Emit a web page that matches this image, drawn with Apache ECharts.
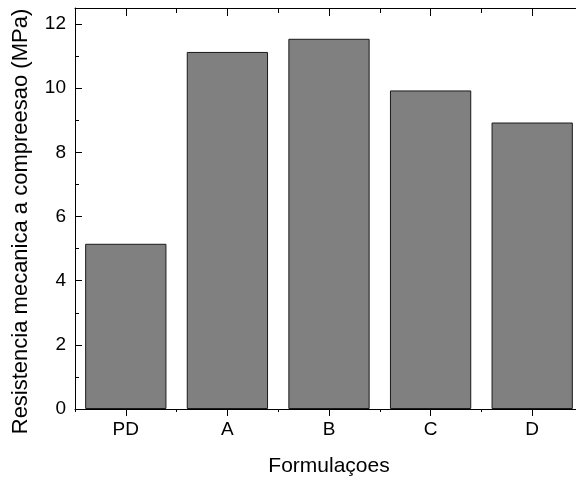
<!DOCTYPE html>
<html>
<head>
<meta charset="utf-8">
<script src="https://cdn.jsdelivr.net/npm/echarts@6/dist/echarts.min.js"></script>
<style>html,body{margin:0;padding:0;background:#fff;}#c{width:576px;height:482px;}</style>
</head>
<body>
<div id="c"></div>
<script>
var categories = ['PD', 'A', 'B', 'C', 'D'];
var values = [5.15, 11.13, 11.54, 9.93, 8.93];
var yMin = 0, yMax = 12.5, yInterval = 2;
var xTitle = 'Formulaçoes';
var yTitle = 'Resistencia mecanica a compreesao (MPa)';

var font = "'Liberation Sans', Arial, sans-serif";
var chart = echarts.init(document.getElementById('c'));
var lineStyle = { color: '#000', width: 1 };
function catAxis(pos, opts) {
  return Object.assign({
    type: 'category', data: categories, position: pos, boundaryGap: true,
    axisLine: { show: false, onZero: false, lineStyle: lineStyle },
    axisTick: { show: true, lineStyle: lineStyle },
    axisLabel: { show: false },
    splitLine: { show: false }
  }, opts);
}
chart.setOption({
  animation: false,
  backgroundColor: '#fff',
  grid: { left: 75, top: 8, width: 508, height: 401, outerBoundsMode: 'none', containLabel: false },
  xAxis: [
    catAxis('bottom', {
      axisLine: { show: true, onZero: false, lineStyle: lineStyle },
      axisTick: { show: true, alignWithLabel: true, length: 7, lineStyle: lineStyle },
      axisLabel: { show: true, color: '#000', fontSize: 19, fontFamily: font, margin: 11 },
      name: xTitle, nameLocation: 'middle', nameGap: 47,
      nameTextStyle: { color: '#000', fontSize: 21, fontFamily: font }
    }),
    catAxis('bottom', { axisTick: { show: true, length: 3, lineStyle: lineStyle } }),
    catAxis('top', {
      axisLine: { show: true, onZero: false, lineStyle: lineStyle },
      axisTick: { show: true, inside: true, alignWithLabel: true, length: 8, lineStyle: lineStyle }
    }),
    catAxis('top', { axisTick: { show: true, inside: true, length: 5, lineStyle: lineStyle } })
  ],
  yAxis: [
    {
      type: 'value', min: yMin, max: yMax, interval: yInterval, position: 'left',
      axisLine: { show: true, onZero: false, lineStyle: lineStyle },
      axisTick: { show: true, inside: true, length: 7, lineStyle: lineStyle },
      axisLabel: { color: '#000', fontSize: 19, fontFamily: font, margin: 9, showMaxLabel: false },
      splitLine: { show: false },
      name: yTitle, nameLocation: 'middle', nameGap: 43, nameRotate: 90,
      nameTextStyle: { color: '#000', fontSize: 22, fontFamily: font, padding: [0, 26, 0, 0] }
    },
    {
      type: 'value', min: yMin, max: yMax, interval: 1, position: 'left',
      axisLine: { show: false },
      axisTick: { show: true, inside: true, length: 4, lineStyle: lineStyle },
      axisLabel: { show: false },
      splitLine: { show: false }
    }
  ],
  series: [{
    type: 'bar', data: values, xAxisIndex: 0, yAxisIndex: 0,
    barCategoryGap: '20%',
    itemStyle: { color: '#808080', borderColor: '#1a1a1a', borderWidth: 1 }
  }]
});
</script>
</body>
</html>
